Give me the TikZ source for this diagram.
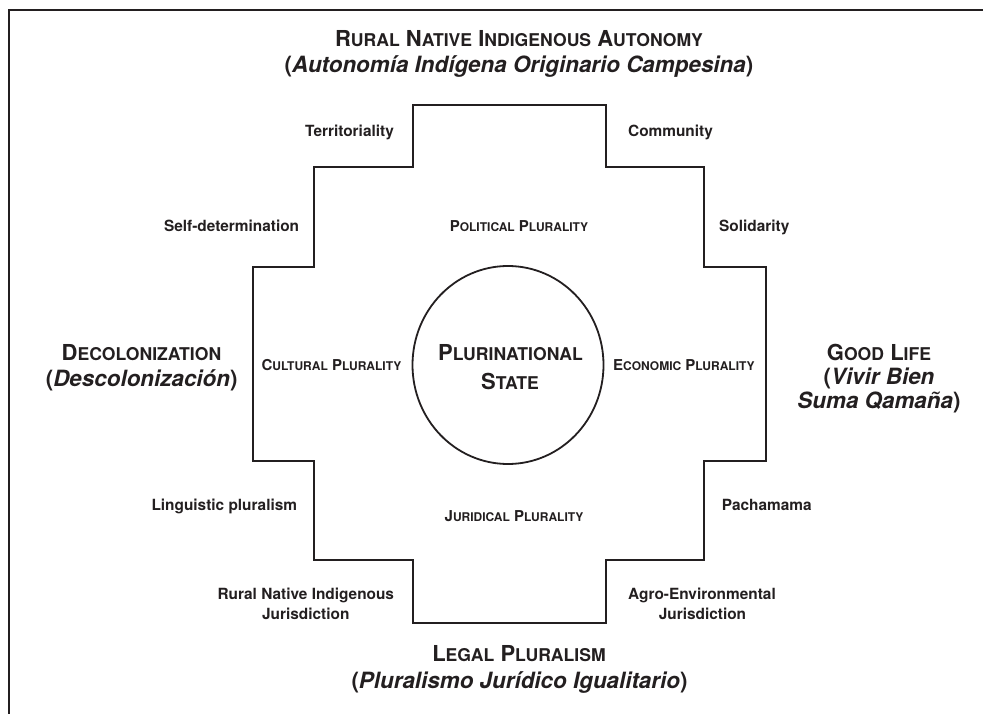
\documentclass[tikz,border=0pt]{standalone}
\usepackage{fontspec}
\setmainfont{TeX Gyre Heros}
\makeatletter
\newcommand\fsc[1]{{\fontsize{\fpeval{0.8*\f@size}}{\f@baselineskip}\selectfont #1}}
\makeatother
\definecolor{ink}{HTML}{231F20}
\tikzset{
  lbl/.style={inner sep=0pt, text=ink, font=\fontsize{15.4}{18}\selectfont\bfseries},
  plur/.style={inner sep=0pt, text=ink, font=\fontsize{15}{18}\selectfont\bfseries},
  ttl/.style={inner sep=0pt, text=ink, font=\fontsize{22}{26}\selectfont\bfseries},
  ttli/.style={inner sep=0pt, text=ink, font=\fontsize{22.4}{26}\selectfont\bfseries},
  shape line/.style={line width=2pt, draw=ink, line join=miter},
}
\begin{document}
\begin{tikzpicture}[x=1pt,y=-1pt]
\useasboundingbox (0,0) rectangle (983,714);
% frame
\draw[line width=2pt, draw=ink] (9,714) -- (9,10) -- (983,10);
% chakana
\draw[shape line] (413,105) -- (606,105) -- (606,167) -- (704,167) -- (704,267) -- (766,267)
  -- (766,461) -- (704,461) -- (704,560) -- (606,560) -- (606,623) -- (413,623)
  -- (413,560) -- (314,560) -- (314,461) -- (253,461) -- (253,267) -- (314,267)
  -- (314,167) -- (413,167) -- cycle;
% circle
\draw[line width=1.8pt, draw=ink] (508,365) ellipse [x radius=95.5, y radius=99];
\node[ttl, anchor=base] (pn1) at (510.5,360.7) {P\fsc{LURINATIONAL}};
\node[ttl, anchor=base] (pn2) at (510,389) {S\fsc{TATE}};
% pluralities
\node[plur, anchor=base] (pol) at (519,231.7) {P\fsc{OLITICAL} P\fsc{LURALITY}};
\node[plur, anchor=base] (cul) at (331.4,370.7) {C\fsc{ULTURAL} P\fsc{LURALITY}};
\node[plur, anchor=base west] (eco) at (613,370.7) {E\fsc{CONOMIC} P\fsc{LURALITY}};
\node[plur, anchor=base] (jur) at (514,521) {J\fsc{URIDICAL} P\fsc{LURALITY}};
% small labels
\node[lbl, anchor=base] (terr) at (349.5,136.7) {Territoriality};
\node[lbl, anchor=base] (comm) at (670.5,136.7) {Community};
\node[lbl, anchor=base east] (self) at (299.3,231.7) {Self-determination};
\node[lbl, anchor=base west] (soli) at (719,231.7) {Solidarity};
\node[lbl, anchor=base east] (ling) at (297.3,510) {Linguistic pluralism};
\node[lbl, anchor=base west] (pach) at (721.7,510) {Pachamama};
\node[lbl, anchor=base] (rn1) at (305.8,599.3) {Rural Native Indigenous};
\node[lbl, anchor=base] (rn2) at (305.8,619.5) {Jurisdiction};
\node[lbl, anchor=base] (ag1) at (702,599.3) {Agro-Environmental};
\node[lbl, anchor=base] (ag2) at (702.5,619.5) {Jurisdiction};
% titles
\node[ttl, anchor=base] (top1) at (519,47) {R\fsc{URAL} N\fsc{ATIVE} I\fsc{NDIGENOUS} A\fsc{UTONOMY}};
\node[ttli, anchor=base] (top2) at (519,73) {(\textit{Autonomía Indígena Originario Campesina})};
\node[ttl, anchor=base] (bot1) at (519,661) {L\fsc{EGAL} P\fsc{LURALISM}};
\node[ttli, anchor=base] (bot2) at (519.5,688) {(\textit{Pluralismo Jurídico Igualitario})};
\node[ttl, anchor=base] (lef1) at (141.5,360) {D\fsc{ECOLONIZATION}};
\node[ttli, anchor=base] (lef2) at (141.7,386) {(\textit{Descolonización})};
\node[ttl, anchor=base] (rig1) at (879,360) {G\fsc{OOD} L\fsc{IFE}};
\node[ttli, anchor=base] (rig2) at (879,384) {(\textit{Vivir Bien}};
\node[ttli, anchor=base] (rig3) at (879,408) {\textit{Suma Qamaña})};
\end{tikzpicture}
\end{document}
